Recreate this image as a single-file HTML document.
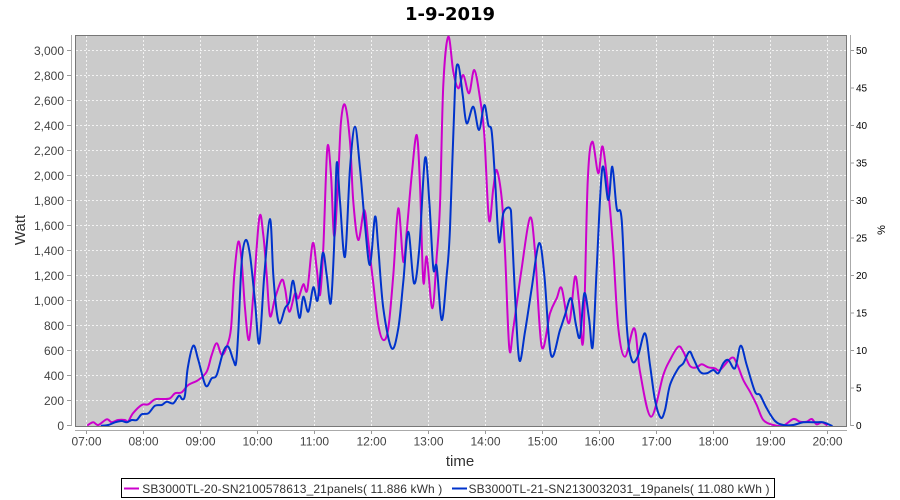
<!DOCTYPE html>
<html>
<head>
<meta charset="utf-8">
<style>
  html,body{margin:0;padding:0;background:#fff;}
  svg{display:block;}
  text{font-family:"Liberation Sans","DejaVu Sans",sans-serif;}
</style>
</head>
<body>
<svg id="chart" width="900" height="500" viewBox="0 0 900 500" xmlns="http://www.w3.org/2000/svg">
  <defs>
    <clipPath id="pc"><rect x="75" y="35" width="771.5" height="391"/></clipPath>
  </defs>
  <rect x="0" y="0" width="900" height="500" fill="#ffffff"/>
  <!-- title -->
  <text x="450" y="20" text-anchor="middle" font-size="18" font-weight="bold" fill="#000" style="font-family:'DejaVu Sans','Liberation Sans',sans-serif">1-9-2019</text>

  <!-- plot area -->
  <rect x="75.5" y="35.5" width="771" height="391" fill="#cbcbcb" stroke="#777" stroke-width="1"/>

  <!-- grid -->
  <g stroke="#f2f2f2" stroke-width="1" stroke-dasharray="2,2" fill="none" id="grid"></g>

  <!-- series -->
  <g clip-path="url(#pc)" fill="none" stroke-width="2" stroke-linejoin="round" stroke-linecap="round">
    <polyline id="s1" stroke="#cc00cc" points="88,425 93.3,422.3 98.3,425 106.7,419.3 111.7,422.3 118,420 125,420 128,421.7 133,413.3 141.7,405 148.3,404.3 155,399.3 163.3,399 170,398.3 175,393.3 181.7,392.3 188.3,385 198.3,380 206.7,371.7 211.7,355 216.7,343.3 221.7,355 226.7,346.7 231,328.3 234.3,275 238.3,241.7 241.7,261.7 245,308.3 249,340 253.3,295 259.3,217.7 263.3,235 266.7,275 270,316 275,298.3 281.7,280 285,288.3 289.3,311.7 295,293.3 298.3,298.3 303.3,284.3 307.3,290 312.7,243.3 316.7,268.3 320,295 323.3,248.3 327.3,148.3 331,175 334.3,236.7 338.3,175 341,121.7 345,105 350,141.7 353.3,201.7 358.3,240 364.3,210 368.3,241.7 373.3,283.3 378.3,325 383.3,340 388.3,328.3 393.3,275 398.3,208.3 403.3,261.7 406.7,231.7 411.7,175 416.7,135 420,185 423.3,281.7 426.7,256.7 432.3,308.3 436.7,256.7 440,205 443.3,85 448.3,36.7 453.3,71.7 458.3,88.3 463.3,75 469,93.3 474.3,70 480,98.3 484.3,135 489,220 493.3,188.3 496.7,170 501.7,198.3 505,251.7 509.3,348.3 513.3,328.3 521.7,268.3 530,217.7 535,251.7 541.7,346.7 550,313.3 556.7,298.3 561.7,288.3 569,323.3 575,276.7 579,301.7 583.3,340 587.7,181.7 592.3,141.7 598.3,173.3 602.7,146.7 609,198.3 613.3,251.7 618.3,328.3 625,356.7 634.3,328.3 640,371.7 651,416.7 663.3,375 670,360 678.3,346.7 683.3,351.7 690,366 696.7,367.3 701.7,364.3 708.3,367.3 715,368.3 720,370 731.7,357.7 736.7,363.3 743.3,380 750,391.7 756.7,405 763.3,420 773.3,425 783.3,425.7 793.3,419 800,421.7 806.7,421.7 811.7,419 816.7,424.3 821.7,422.3 826.7,425"/>
    <polyline id="s2" stroke="#0033cc" points="101.7,425.7 108.3,425 115,422.3 121.7,421 126.7,422.3 131.7,420 136.7,420 141.7,414.3 148.3,413.3 155,405.7 161.7,405 166.7,401.7 173.3,403.3 179,395.7 182.3,399.3 185,395 187.7,368.3 193.3,345.7 198.3,360 205.7,385.7 211.7,378.3 216.7,375 223.3,351.7 228.3,346.7 233.3,360 236,363.3 238.3,331.7 241.7,261.7 245.7,240 250,255 255,301.7 259.3,343.3 264.3,275 270,219 273.3,275 276.7,311.7 280,323.3 285,308.3 289.3,301.7 293.3,281 299.3,317.7 303.3,296.7 308.3,311.7 313.3,287.3 317.7,300 322.7,253.3 326.7,275 330.7,303.3 334,248.3 336.7,163.3 340,201.7 345,256.7 350,168.3 355,126.7 360,168.3 365,225 370,265 375,216.7 378.3,248.3 383.3,308.3 391.7,348.3 398.3,328.3 403.3,281.7 408.3,231.7 414,283.3 419.3,248.3 425,158.3 429.3,201.7 433.3,268.3 436.7,266.7 441.7,320 446.7,275 450,228.3 455,88.3 458.3,65 462.7,95 466.7,123.3 473.3,106.7 479,130 484.3,105 488.3,125 491.7,131.7 495,178.3 499,241.7 503.3,213.3 510,208.3 511.7,225 515,295 519.3,360 525,331.7 531.7,288.3 539,243.3 544.3,275 551,355 560,330 565,315 571,298.3 576,325 580,336.7 584.3,293.3 589,318.3 592.7,346.7 596.7,268.3 602.3,168.3 608.3,200 612.3,166.7 616.7,208.3 621.7,220 626.7,325 631.7,360 637.7,356.7 645,333.3 650,365 655,400 660.7,417.7 665,410 670,385 678.3,368.3 683.3,363.3 689.3,351.7 693.3,358.3 700,371.7 706.7,373.3 713.3,370 718.3,373.3 723.3,363.3 728.3,360 735,368.3 740.7,345.7 746.7,365 755,391.7 760,395 766.7,408.3 775,421 783.3,425 793.3,425 803.3,422.3 816.7,422.3 823.3,422.3 831.7,425.7"/>
  </g>

  <!-- axes lines -->
  <line x1="71.5" y1="35" x2="71.5" y2="426" stroke="#aaaaaa" stroke-width="1"/>
  <line x1="75" y1="430.5" x2="847" y2="430.5" stroke="#aaaaaa" stroke-width="1"/>
  <line x1="850.5" y1="35" x2="850.5" y2="426" stroke="#aaaaaa" stroke-width="1"/>
  <g id="ticks" stroke="#999" stroke-width="1"></g>
  <g id="ylabels" font-size="12" fill="#444" text-anchor="end"></g>
  <g id="rlabels" font-size="10" fill="#000" text-anchor="start"></g>
  <g id="xlabels" font-size="12" fill="#444" text-anchor="middle"></g>

  <!-- axis titles -->
  <text transform="translate(25,230) rotate(-90)" text-anchor="middle" font-size="15" fill="#333">Watt</text>
  <text transform="translate(885,230) rotate(-90)" text-anchor="middle" font-size="11" fill="#000">%</text>
  <text x="460" y="466" text-anchor="middle" font-size="15" fill="#333">time</text>

  <!-- legend -->
  <rect x="121.5" y="478.5" width="653" height="19" fill="#fff" stroke="#000" stroke-width="1"/>
  <line x1="124" y1="488.5" x2="139" y2="488.5" stroke="#cc00cc" stroke-width="2"/>
  <rect x="130" y="487.5" width="3" height="2" fill="#cc00cc"/>
  <text x="142.3" y="493" font-size="12" fill="#333" textLength="300" lengthAdjust="spacing">SB3000TL-20-SN2100578613_21panels( 11.886 kWh )</text>
  <line x1="452" y1="488.5" x2="467" y2="488.5" stroke="#0033cc" stroke-width="2"/>
  <rect x="458" y="487.5" width="3" height="2" fill="#0033cc"/>
  <text x="468.5" y="493" font-size="12" fill="#333" textLength="301" lengthAdjust="spacing">SB3000TL-21-SN2130032031_19panels( 11.080 kWh )</text>
</svg>
<script>
(function(){
  var NS="http://www.w3.org/2000/svg";
  function el(t,a,p,txt){var e=document.createElementNS(NS,t);for(var k in a)e.setAttribute(k,a[k]);if(txt!==undefined)e.textContent=txt;p.appendChild(e);return e;}
  var grid=document.getElementById("grid"),ticks=document.getElementById("ticks"),
      yl=document.getElementById("ylabels"),rl=document.getElementById("rlabels"),xl=document.getElementById("xlabels");
  for(var k=0;k<=15;k++){
    var y=425.5-k*25;
    if(k>0) el("line",{x1:76,y1:y,x2:846,y2:y},grid);
    el("line",{x1:67,y1:y,x2:71,y2:y},ticks);
    var v=k*200, s=v>=1000?(Math.floor(v/1000)+","+("00"+(v%1000)).slice(-3)):String(v);
    el("text",{x:64,y:y+4.5},yl,s);
  }
  for(var r=0;r<=10;r++){
    var yr=425.5-r*37.5;
    el("line",{x1:851,y1:yr,x2:854,y2:yr},ticks);
    el("text",{x:856,y:yr+3.5},rl,String(r*5));
  }
  for(var h=0;h<=13;h++){
    var x=Math.round(85.7+57*h)+0.5;
    el("line",{x1:x,y1:36,x2:x,y2:426},grid);
    el("line",{x1:x,y1:431,x2:x,y2:434},ticks);
    var hh=7+h; el("text",{x:x,y:445.5},xl,(hh<10?"0":"")+hh+":00");
  }
  ["s1","s2"].forEach(function(id){
    var pl=document.getElementById(id);
    var pts=pl.getAttribute("points").trim().split(/\s+/).map(function(p){var a=p.split(",");return [+a[0],+a[1]];});
    var d="M"+pts[0][0]+","+pts[0][1];
    for(var i=0;i<pts.length-1;i++){
      var p0=pts[i-1]||pts[i],p1=pts[i],p2=pts[i+1],p3=pts[i+2]||p2;
      var c1x=p1[0]+(p2[0]-p0[0])/6,c1y=p1[1]+(p2[1]-p0[1])/6;
      var c2x=p2[0]-(p3[0]-p1[0])/6,c2y=p2[1]-(p3[1]-p1[1])/6;
      d+=" C"+c1x.toFixed(2)+","+c1y.toFixed(2)+" "+c2x.toFixed(2)+","+c2y.toFixed(2)+" "+p2[0]+","+p2[1];
    }
    var path=document.createElementNS(NS,"path");
    path.setAttribute("d",d);path.setAttribute("stroke",pl.getAttribute("stroke"));
    pl.parentNode.replaceChild(path,pl);
  });
})();
</script>
</body>
</html>
